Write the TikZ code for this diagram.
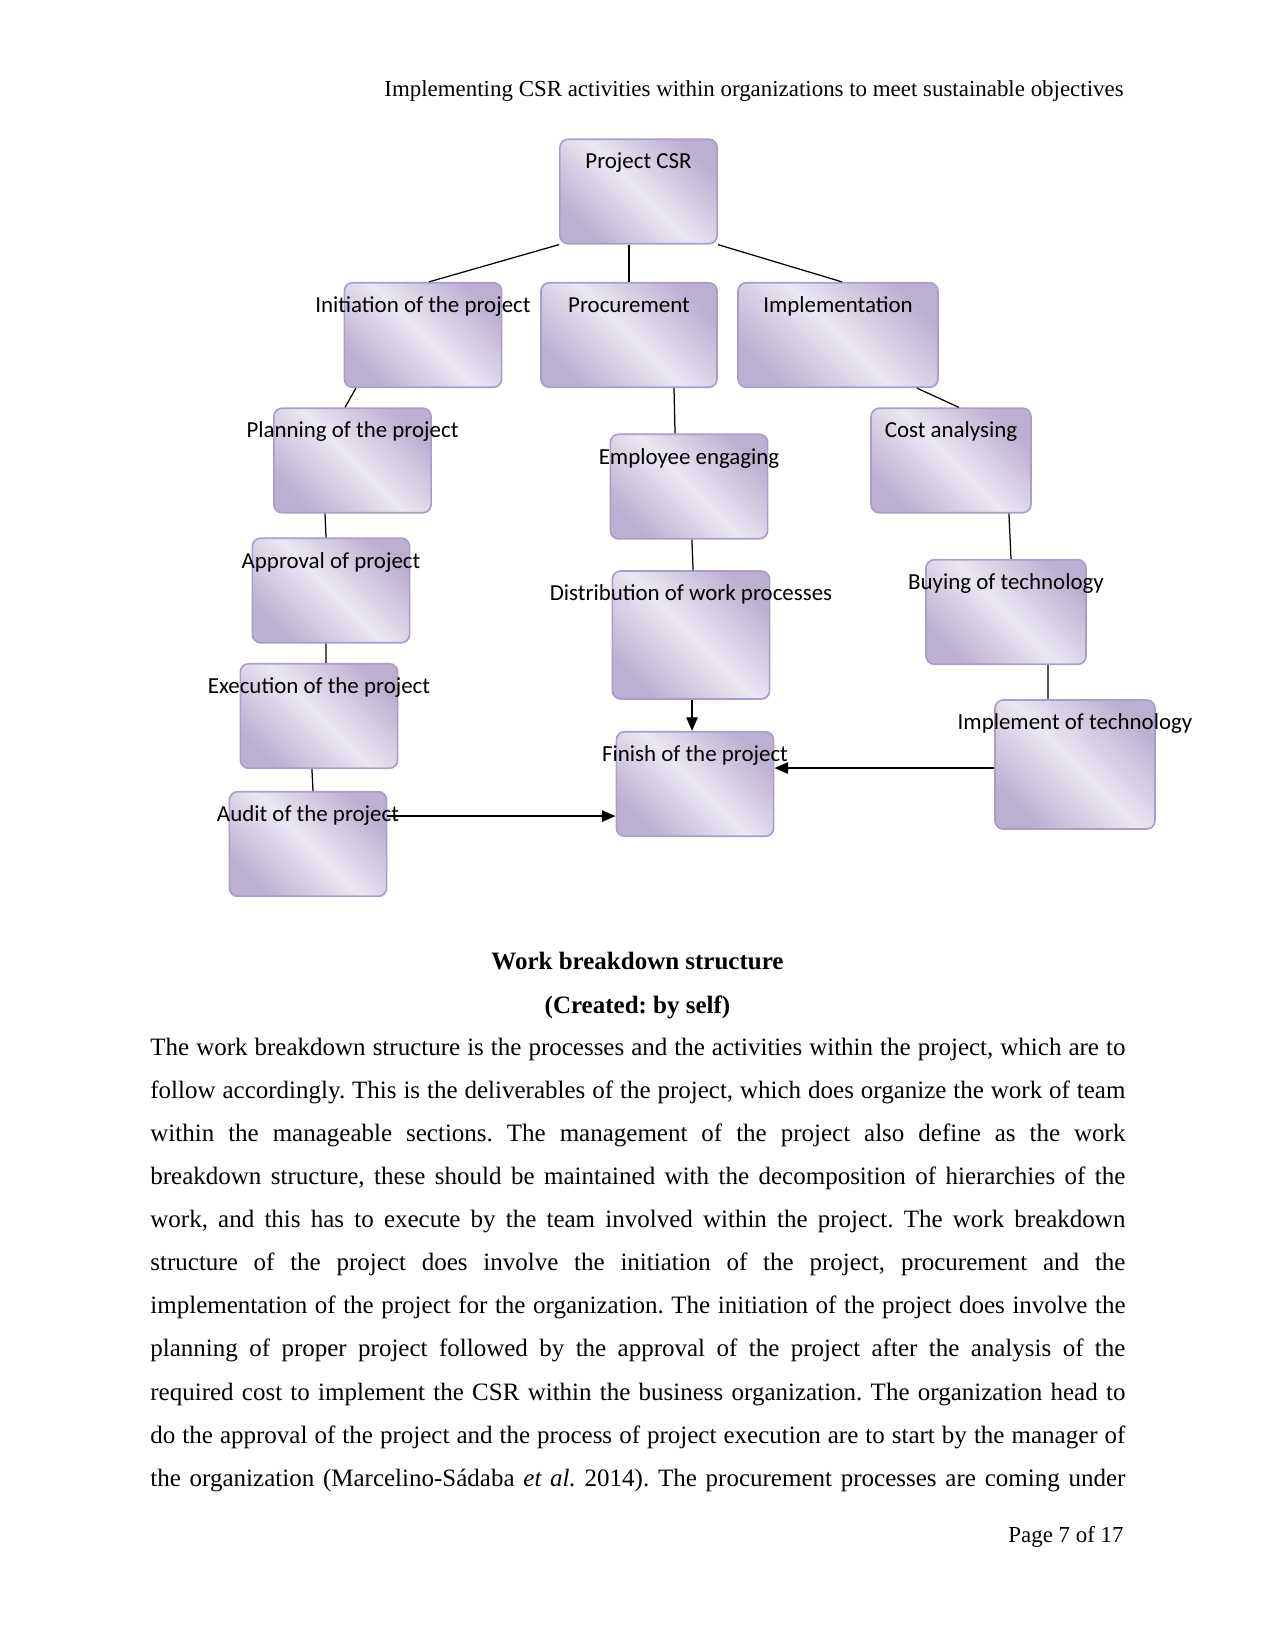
\documentclass[tikz,border=0pt]{standalone}
\usepackage{fontspec}
\setmainfont{Liberation Serif}
\newfontfamily\cajafont{Carlito}
\usetikzlibrary{arrows.meta}
\definecolor{cajaosc}{RGB}{188,176,210}
\definecolor{cajaclara}{RGB}{235,231,243}
\definecolor{cajaborde}{RGB}{170,157,201}

\begin{document}
\begin{tikzpicture}[x=0.48pt, y=-0.48pt,
    caja/.style={draw=cajaborde, line width=0.8pt, rounded corners=4pt, inner sep=0pt,
        minimum width=75.5pt, minimum height=50.2pt,
        left color=cajaosc, right color=cajaosc, middle color=cajaclara, shading angle=-45,
        label={[anchor=base, yshift=-14.7pt, text=black, font=\cajafont\fontsize{11}{13}\selectfont]north:#1}},
    linea/.style={black, line width=0.6pt},
    flecha/.style={linea, -{Triangle[length=6.5pt, width=5.5pt]}}]
    \useasboundingbox (0,0) rectangle (1275,1650);

    % Encabezado de la pagina
    \node[anchor=base east, inner sep=0pt, font=\fontsize{11}{13}\selectfont] (encabezado) at (1124,97)
        {Implementing CSR activities within organizations to meet sustainable objectives};

    % Cajas del WBS
    \node[caja=Project CSR] (csr) at (638.5,191.5) {};
    \node[caja=Initiation of the project] (inicio) at (423,335) {};
    \node[caja=Procurement, minimum width=84.5pt] (compras) at (629,335) {};
    \node[caja=Implementation, minimum width=96pt] (implem) at (838,335) {};
    \node[caja=Planning of the project] (plan) at (352.5,460.5) {};
    \node[caja=Employee engaging] (empleado) at (689,486.5) {};
    \node[caja=Cost analysing, minimum width=76.8pt] (costo) at (951,460.5) {};
    \node[caja=Approval of project] (aprob) at (331,590.5) {};
    \node[caja=Distribution of work processes, minimum height=61.4pt] (distrib) at (691,635) {};
    \node[caja=Buying of technology, minimum width=76.8pt] (compra) at (1006,612) {};
    \node[caja=Execution of the project] (ejec) at (319,716) {};
    \node[caja=Finish of the project] (fin) at (695,784) {};
    \node[caja=Implement of technology, minimum width=76.8pt, minimum height=61.9pt] (tecno) at (1075,764.5) {};
    \node[caja=Audit of the project] (audit) at (308,844) {};

    % Lineas del primer nivel
    \draw[linea] (csr.south west) -- ([xshift=2.9pt]inicio.north);
    \draw[linea] (compras.north |- csr.south) -- (compras.north);
    \draw[linea] (csr.south east) -- ([xshift=1.9pt]implem.north);

    % Rama de inicio
    \draw[linea] ([xshift=-32.2pt]inicio.south) -- ([xshift=-3.6pt]plan.north);
    \draw[linea] ([xshift=-13.2pt]plan.south) -- ([xshift=-2.4pt]aprob.north);
    \draw[linea] ([xshift=-2.4pt]aprob.south) -- ([xshift=3.4pt]ejec.north);
    \draw[linea] ([xshift=-3.4pt]ejec.south) -- ([xshift=2.4pt]audit.north);

    % Rama de compras
    \draw[linea] ([xshift=21.6pt]compras.south) -- ([xshift=-6.7pt]empleado.north);
    \draw[linea] ([xshift=1.4pt]empleado.south) -- ([xshift=1pt]distrib.north);
    \draw[flecha] ([xshift=0.5pt]distrib.south) -- ([xshift=0.5pt]distrib.south |- fin.north);

    % Rama de implementacion
    \draw[linea] ([xshift=37.9pt]implem.south) -- ([xshift=3.8pt]costo.north);
    \draw[linea] ([xshift=27.8pt]costo.south) -- ([xshift=2.4pt]compra.north);
    \draw[linea] ([xshift=20.2pt]compra.south) -- ([xshift=-13pt]tecno.north);

    % Flechas hacia el final
    \draw[flecha] ([yshift=13.4pt]audit.east) -- ([yshift=13.4pt]audit.east -| fin.west);
    \draw[flecha] ([yshift=-1.7pt]tecno.west) -- ([yshift=-1.7pt]tecno.west -| fin.east);

    % Titulo de la figura
    \node[inner sep=0pt, font=\bfseries\fontsize{12}{14}\selectfont] (titulo) at (637.5,961)
        {Work breakdown structure};
    \node[inner sep=0pt, font=\bfseries\fontsize{12}{14}\selectfont] (creado) at (637.5,1007)
        {(Created:\ by self)};

    % Parrafo
    \node[anchor=base west, inner sep=0pt, text width=468pt, align=justify,
        font=\fontsize{12}{20.7}\selectfont] (texto) at (150,1055)
        {\frenchspacing\hyphenpenalty=10000
        The work breakdown structure is the processes and the activities within the project, which are to\linebreak
        follow accordingly. This is the deliverables of the project, which does organize the work of team\linebreak
        within the manageable sections. The management of the project also define as the work\linebreak
        breakdown structure, these should be maintained with the decomposition of hierarchies of the\linebreak
        work, and this has to execute by the team involved within the project. The work breakdown\linebreak
        structure of the project does involve the initiation of the project, procurement and the\linebreak
        implementation of the project for the organization. The initiation of the project does involve the\linebreak
        planning of proper project followed by the approval of the project after the analysis of the\linebreak
        required cost to implement the CSR within the business organization. The organization head to\linebreak
        do the approval of the project and the process of project execution are to start by the manager of\linebreak
        the organization (Marcelino-Sádaba \textit{et al.} 2014). The procurement processes are coming under\parfillskip=0pt\par};

    % Pie de pagina
    \node[anchor=base east, inner sep=0pt, font=\fontsize{11}{13}\selectfont] (pagina) at (1124,1542)
        {Page 7 of 17};
\end{tikzpicture}
\end{document}
